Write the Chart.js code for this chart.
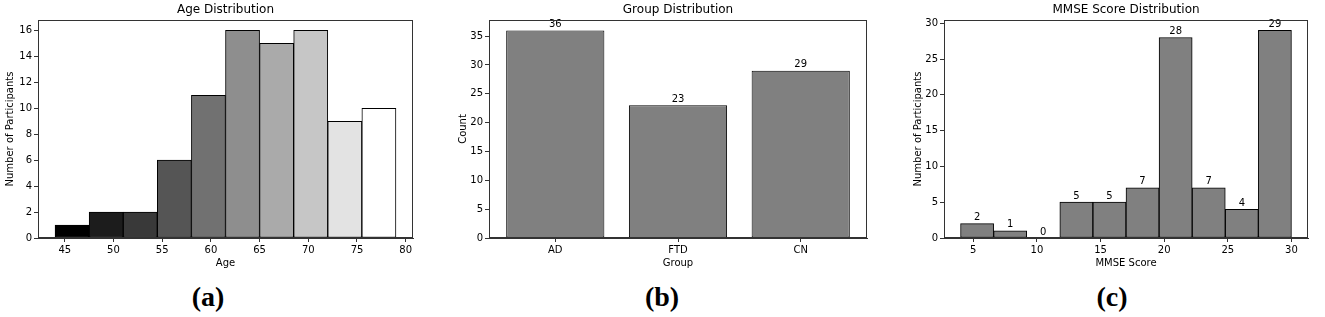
<!DOCTYPE html>
<html>
<head>
<meta charset="utf-8">
<script src="https://cdn.jsdelivr.net/npm/chart.js@4.4.0/dist/chart.umd.min.js"></script>
<style>
  body { margin: 0; background: #fff; width: 1325px; height: 317px; overflow: hidden; position: relative; }
  canvas { position: absolute; top: 0; }
  .panel-label { position: absolute; top: 280px; font: bold 28px "Liberation Serif", serif; line-height: 34px; transform: translateX(-50%); color: #000; }
</style>
</head>
<body>
<canvas id="ageChart" width="430" height="280" style="left:0px"></canvas>
<canvas id="groupChart" width="440" height="280" style="left:440px"></canvas>
<canvas id="mmseChart" width="435" height="280" style="left:890px"></canvas>
<div class="panel-label" style="left:208px">(a)</div>
<div class="panel-label" style="left:662px">(b)</div>
<div class="panel-label" style="left:1112px">(c)</div>
<script>
// 年齢の度数分布
const ageEdges = [44, 47.5, 51, 54.5, 58, 61.5, 65, 68.5, 72, 75.5, 79];
const ageCounts = [1, 2, 2, 6, 11, 16, 15, 16, 9, 10];
const ageColors = ['#000000', '#1c1c1c', '#393939', '#555555', '#717171', '#8e8e8e', '#aaaaaa', '#c6c6c6', '#e3e3e3', '#ffffff'];
const ageXTicks = [45, 50, 55, 60, 65, 70, 75, 80];
const ageYTicks = [0, 2, 4, 6, 8, 10, 12, 14, 16];

// グループ別の人数
const groupLabels = ['AD', 'FTD', 'CN'];
const groupCounts = [36, 23, 29];
const groupYTicks = [0, 5, 10, 15, 20, 25, 30, 35];

// MMSEスコアの度数分布
const mmseEdges = [4, 6.6, 9.2, 11.8, 14.4, 17, 19.6, 22.2, 24.8, 27.4, 30];
const mmseCounts = [2, 1, 0, 5, 5, 7, 28, 7, 4, 29];
const mmseXTicks = [5, 10, 15, 20, 25, 30];
const mmseYTicks = [0, 5, 10, 15, 20, 25, 30];

Chart.defaults.font.family = '"DejaVu Sans", sans-serif';
Chart.defaults.font.size = 10;
Chart.defaults.color = '#000';

const axisColor = '#333';

// ビン端から中心を出す
function binPoints(edges, counts) {
  return counts.map((c, i) => ({ x: (edges[i] + edges[i + 1]) / 2, y: c }));
}

// 枠線（上と右も描く）
const frame = {
  id: 'frame',
  afterDraw(chart) {
    const { ctx, chartArea: a } = chart;
    ctx.save();
    ctx.strokeStyle = axisColor;
    ctx.lineWidth = 1;
    ctx.strokeRect(Math.round(a.left) + 0.5, Math.round(a.top) + 0.5,
      Math.round(a.right - a.left) - 1, Math.round(a.bottom - a.top) - 1);
    ctx.restore();
  }
};

// 棒の上に数値を表示
const barValues = {
  id: 'barValues',
  afterDatasetsDraw(chart) {
    const ctx = chart.ctx;
    const meta = chart.getDatasetMeta(0);
    const vals = chart.data.datasets[0].data;
    ctx.save();
    ctx.font = '10px "DejaVu Sans", sans-serif';
    ctx.fillStyle = '#000';
    ctx.textAlign = 'center';
    ctx.textBaseline = 'bottom';
    meta.data.forEach((bar, i) => {
      ctx.fillText(String(vals[i].y), bar.x, bar.y - 1);
    });
    ctx.restore();
  }
};

function makeChart(id, cfg) {
  return new Chart(document.getElementById(id), {
    type: 'bar',
    data: {
      datasets: [{
        data: cfg.points,
        backgroundColor: cfg.colors,
        borderColor: '#000',
        borderWidth: 1,
        borderSkipped: false,
        barPercentage: cfg.barPct,
        categoryPercentage: 1
      }]
    },
    options: {
      responsive: false,
      animation: false,
      devicePixelRatio: 1,
      layout: { padding: { left: 0, right: cfg.padRight, top: 0, bottom: 0 } },
      plugins: {
        legend: { display: false },
        tooltip: { enabled: false },
        title: {
          display: true, text: cfg.title, color: '#000', fullSize: false,
          font: { size: 12, weight: 'normal' },
          padding: { top: 3, bottom: 2.6 }
        }
      },
      scales: {
        x: {
          type: 'linear', min: cfg.xMin, max: cfg.xMax, offset: false,
          afterBuildTicks: s => { s.ticks = cfg.xTicks.map(v => ({ value: v })); },
          afterFit: s => { s.height = 42; },
          ticks: { autoSkip: false, maxRotation: 0, padding: 2, callback: cfg.xLabel },
          grid: { display: true, drawOnChartArea: false, drawTicks: true, tickLength: 4, color: axisColor, offset: false },
          border: { color: axisColor, width: 1 },
          title: { display: true, text: cfg.xTitle, font: { size: 10 }, padding: { top: 0, bottom: 11 } }
        },
        y: {
          type: 'linear', min: 0, max: cfg.yMax,
          afterBuildTicks: s => { s.ticks = cfg.yTicks.map(v => ({ value: v })); },
          afterFit: s => { s.width = cfg.yWidth; },
          ticks: { padding: 2, callback: v => String(v) },
          grid: { display: true, drawOnChartArea: false, drawTicks: true, tickLength: 4, color: axisColor },
          border: { color: axisColor, width: 1 },
          title: { display: true, text: cfg.yTitle, font: { size: 10 }, padding: { top: cfg.yTitlePad, bottom: 0 } }
        }
      }
    },
    plugins: cfg.valueLabels ? [frame, barValues] : [frame]
  });
}

makeChart('ageChart', {
  title: 'Age Distribution', xTitle: 'Age', yTitle: 'Number of Participants',
  points: binPoints(ageEdges, ageCounts), colors: ageColors, barPct: 1,
  xMin: 42.25, xMax: 80.75, xTicks: ageXTicks, xLabel: v => String(v),
  yMax: 16.8, yTicks: ageYTicks, yWidth: 38, yTitlePad: 4, padRight: 17, valueLabels: false
});

makeChart('groupChart', {
  title: 'Group Distribution', xTitle: 'Group', yTitle: 'Count',
  points: groupCounts.map((c, i) => ({ x: i, y: c })), colors: '#808080', barPct: 0.8,
  xMin: -0.54, xMax: 2.54, xTicks: [0, 1, 2], xLabel: v => groupLabels[v],
  yMax: 37.8, yTicks: groupYTicks, yWidth: 49, yTitlePad: 17, padRight: 13, valueLabels: true
});

makeChart('mmseChart', {
  title: 'MMSE Score Distribution', xTitle: 'MMSE Score', yTitle: 'Number of Participants',
  points: binPoints(mmseEdges, mmseCounts), colors: '#808080', barPct: 1,
  xMin: 2.7, xMax: 31.3, xTicks: mmseXTicks, xLabel: v => String(v),
  yMax: 30.45, yTicks: mmseYTicks, yWidth: 54, yTitlePad: 22, padRight: 17, valueLabels: true
});
</script>
</body>
</html>
